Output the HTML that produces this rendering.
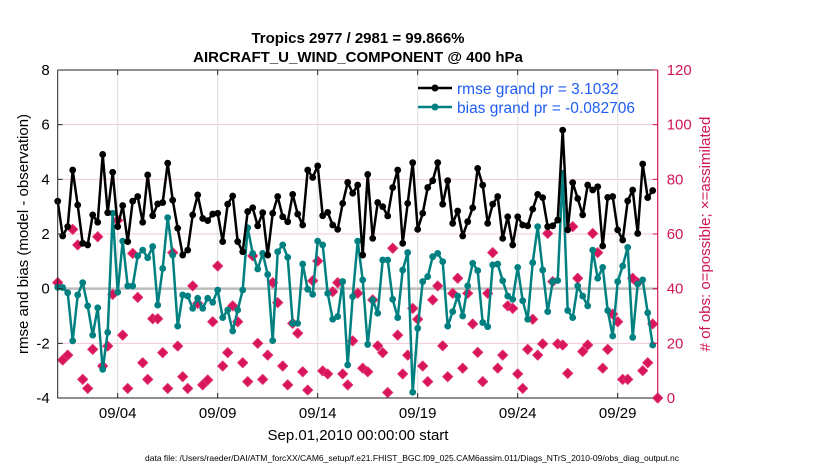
<!DOCTYPE html>
<html><head><meta charset="utf-8"><style>
body{margin:0;background:#fff;width:830px;height:470px;overflow:hidden}
svg{font-family:"Liberation Sans",sans-serif}
</style></head><body>
<svg id="chart" width="830" height="470" viewBox="0 0 830 470" xmlns="http://www.w3.org/2000/svg">
<text x="358" y="43" text-anchor="middle" font-size="15" font-weight="bold">Tropics 2977 / 2981 = 99.866%</text>
<text x="358" y="62" text-anchor="middle" font-size="15" font-weight="bold">AIRCRAFT_U_WIND_COMPONENT @ 400 hPa</text>
<g id="grid"></g><g id="marks"></g><g id="axes"></g>
<text transform="translate(28,234) rotate(-90)" text-anchor="middle" font-size="15">rmse and bias (model - observation)</text>
<text transform="translate(710,234) rotate(-90)" text-anchor="middle" font-size="15" fill="#d0155a"># of obs: o=possible; ×=assimilated</text>
<text x="358" y="440" text-anchor="middle" font-size="15">Sep.01,2010 00:00:00 start</text>
<text x="412" y="461" text-anchor="middle" font-size="8.5" textLength="534" lengthAdjust="spacingAndGlyphs">data file: /Users/raeder/DAI/ATM_forcXX/CAM6_setup/f.e21.FHIST_BGC.f09_025.CAM6assim.011/Diags_NTrS_2010-09/obs_diag_output.nc</text>
<g>
<line x1="418" y1="88" x2="452" y2="88" stroke="#000" stroke-width="2.5"/><circle cx="435" cy="88" r="3.5" fill="#000"/>
<text x="457" y="94" font-size="15.5" fill="#1f5cf5">rmse grand pr = 3.1032</text>
<line x1="418" y1="107" x2="452" y2="107" stroke="#008080" stroke-width="2.5"/><circle cx="435" cy="107" r="3.5" fill="#008080"/>
<text x="457" y="113" font-size="15.5" fill="#1f5cf5">bias grand pr = -0.082706</text>
</g>
</svg>
<script>
const rmse=[3.2,1.93,2.27,4.34,3.06,1.66,1.6,2.7,2.43,4.91,2.78,4.26,2.27,3.04,1.72,3.2,3.37,2.43,4.16,2.67,3.1,
3.15,4.59,3.24,2.21,1.23,1.41,2.70,3.43,2.57,2.49,2.73,2.76,1.72,3.09,3.39,1.72,1.35,2.82,2.96,2.30,
2.78,1.23,2.76,3.37,2.63,2.45,3.45,2.73,2.33,4.34,4.07,4.49,2.67,2.79,2.33,2.17,3.12,3.89,3.49,3.79,
1.23,4.18,1.84,3.15,3.0,2.66,3.7,4.34,1.66,3.12,4.61,2.17,2.76,3.7,3.95,4.61,3.09,3.95,2.39,2.84,
1.93,2.45,2.96,4.4,3.79,2.39,3.09,3.37,1.84,2.63,1.6,2.63,2.33,2.3,2.91,3.45,3.33,2.27,2.3,2.51,
5.8,2.15,3.88,3.3,2.7,3.79,3.61,3.73,1.56,3.34,3.37,2.15,1.78,3.21,3.61,2.02,4.56,3.33,3.59];
const bias=[0.05,0.04,-0.15,-1.91,-0.23,0.22,-0.63,-1.7,-0.7,-2.95,-1.6,2.76,-0.13,1.74,0.1,0.1,1.2,1.41,1.13,1.54,-0.6,
0.74,2.6,1.23,-1.37,-0.23,-0.27,-0.72,-0.35,-0.72,-0.35,-0.5,-0.05,-1.06,-0.78,-1.55,-0.78,-0.05,2.23,1.29,0.72,
1.29,0.52,-1.9,1.35,1.6,1.15,-1.27,-1.27,0.9,-0.02,-0.21,1.74,1.6,-0.17,-1.12,-1.02,0.26,-2.79,-0.29,1.74,
0.32,-2.04,-0.41,-0.9,1.05,1.05,-0.39,-1.06,0.68,1.32,-3.79,-1.45,0.26,0.44,1.17,1.29,0.99,-1.37,-0.84,-0.27,
-1.0,0.1,0.93,0.66,-1.24,-1.39,0.87,0.9,0.29,-0.27,-0.39,0.78,-0.44,-1.12,0.95,2.27,0.68,-0.84,0.26,0.3,
4.22,-0.8,-1.06,0.1,-0.27,-0.63,1.41,0.38,0.78,-0.8,-1.73,0.26,0.83,1.51,-1.78,0.17,0.32,-0.88,-2.06];
const nobs=[42.2,13.9,15.7,61.7,56,6.8,3.5,17.8,59,11.7,19,37.9,65,23,3.5,52.9,36.8,12.9,6.8,29,29,
16.6,3.5,53.2,19,7.8,3.5,41,34.6,4.8,6.6,27.9,48.3,11.7,16.6,33.7,27.9,12.9,6,52,20,
6.8,15.7,42.2,34.9,11.7,4.8,27.3,23.7,9.6,2.9,42.9,50.1,9.9,8.8,38.9,42.2,8.8,4.8,20.9,38.3,
10.9,9.6,35.9,19.1,16.6,2,54.8,23,8.8,15.7,32.8,28.8,11.7,6,35.9,41,19.1,7.8,38.3,43.8,
10.9,38.3,27.1,16.7,6,38.3,53.2,10.9,15.7,33.7,32.8,8.8,3.5,17.8,28.8,15.7,19.8,60.2,42.6,19.8,
19.4,9,62.7,43.8,17,19.4,60.2,53.2,10.9,17.8,30.7,27.9,6.8,6.8,43.8,42.2,10,12.9,27.1,0];
const leftTicks=[-4,-2,0,2,4,6,8];
const rightTicks=[0,20,40,60,80,100,120];
const dateTicks=[3,8,13,18,23,28];
const dateLabels=["09/04","09/09","09/14","09/19","09/24","09/29"];
const X0=57.7,X1=657.7,Y0=70,Y1=398;
const xs=d=>X0+(d/30)*(X1-X0);
const yL=v=>Y1-(v+4)/12*(Y1-Y0);
const yR=v=>Y1-v/120*(Y1-Y0);
const NS="http://www.w3.org/2000/svg";
function mk(p,t,a){const e=document.createElementNS(NS,t);for(const k in a)e.setAttribute(k,a[k]);p.appendChild(e);return e;}
const grid=document.getElementById('grid'),marks=document.getElementById('marks'),axes=document.getElementById('axes');
leftTicks.forEach(v=>{if(v>-4&&v<8&&v!==0){const l=mk(grid,'line',{x1:X0,x2:X1,y1:yL(v),y2:yL(v),stroke:'#f3c8d8','stroke-width':1});

}});
dateTicks.forEach(d=>{const l=mk(grid,'line',{x1:xs(d),x2:xs(d),y1:Y0,y2:Y1,stroke:'#dedede','stroke-width':1});

});
const zl=mk(grid,'line',{x1:X0,x2:X1,y1:yL(0),y2:yL(0),stroke:'#bdbdbd','stroke-width':2.5});


nobs.forEach((v,i)=>{const x=xs(i*0.25),y=yR(v);
const p=mk(marks,'path',{d:`M${x-5},${y}L${x},${y-5}L${x+5},${y}L${x},${y+5}Z`,fill:'#d8145c',stroke:'#e0306c','stroke-width':1,'stroke-linejoin':'round'});

});
function series(arr,col,name){
const pts=arr.map((v,i)=>xs(i*0.25)+','+yL(v)).join(' ');
const pl=mk(marks,'polyline',{points:pts,fill:'none',stroke:col,'stroke-width':2.5,'stroke-linejoin':'round'});


arr.forEach((v,i)=>{const c=mk(marks,'circle',{cx:xs(i*0.25),cy:yL(v),r:3.4,fill:col});

});}
series(bias,'#008080','bias');
series(rmse,'#000','rmse');
const la=mk(axes,'path',{d:`M${X0},${Y0}V${Y1}H${X1}M${X0},${Y0}H${X1}`,stroke:'#222',fill:'none','stroke-width':1});


const ra=mk(axes,'line',{x1:X1,x2:X1,y1:Y0,y2:Y1,stroke:'#d0155a','stroke-width':1.2});


leftTicks.forEach(v=>{mk(axes,'line',{x1:X0,x2:X0+5,y1:yL(v),y2:yL(v),stroke:'#222'});
const t=mk(axes,'text',{x:X0-8,y:yL(v)+5,'text-anchor':'end','font-size':15});t.textContent=v;

});
rightTicks.forEach(v=>{mk(axes,'line',{x1:X1-5,x2:X1,y1:yR(v),y2:yR(v),stroke:'#d0155a'});
const t=mk(axes,'text',{x:X1+9,y:yR(v)+5,'font-size':15,fill:'#d0155a'});t.textContent=v;

});
dateTicks.forEach((d,i)=>{mk(axes,'line',{x1:xs(d),x2:xs(d),y1:Y1,y2:Y1-5,stroke:'#222'});mk(axes,'line',{x1:xs(d),x2:xs(d),y1:Y0,y2:Y0+5,stroke:'#222'});
const t=mk(axes,'text',{x:xs(d),y:Y1+20,'text-anchor':'middle','font-size':15});t.textContent=dateLabels[i];

});
</script>
</body></html>
